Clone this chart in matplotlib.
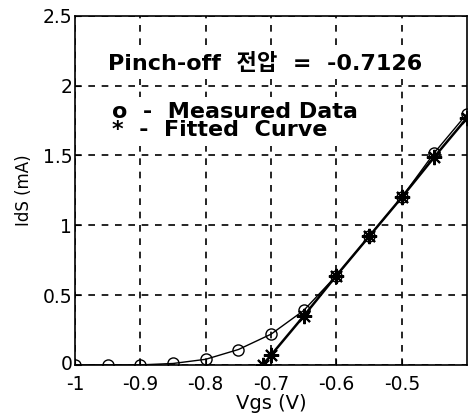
import matplotlib.pyplot as plt
import matplotlib.transforms as mtransforms
import numpy as np

plt.rcParams['font.family'] = ['DejaVu Sans', 'Noto Sans CJK KR']

vgs_meas = [-1.0, -0.95, -0.9, -0.85, -0.8, -0.75, -0.7, -0.65, -0.6, -0.55, -0.5, -0.45, -0.4]
ids_meas = [0.0, 0.0, 0.0, 0.01, 0.04, 0.11, 0.22, 0.39, 0.64, 0.92, 1.2, 1.52, 1.8]

vgs_fit = [-0.7126, -0.7, -0.65, -0.6, -0.55, -0.5, -0.45, -0.4]
ids_fit = [0.0, 0.07, 0.35, 0.64, 0.92, 1.2, 1.49, 1.77]

xticks = [-1, -0.9, -0.8, -0.7, -0.6, -0.5]
xticklabels = ['-1', '-0.9', '-0.8', '-0.7', '-0.6', '-0.5']
yticks = [0, 0.5, 1, 1.5, 2, 2.5]
yticklabels = ['0', '0.5', '1', '1.5', '2', '2.5']

fig = plt.figure(figsize=(4.69, 4.17), dpi=100)
ax = fig.add_axes([0.16, 0.125, 0.836, 0.837])

ax.plot(vgs_meas, ids_meas, '-o', color='black', lw=1.0, ms=8, mfc='none', mew=1.0)
ax.plot(vgs_fit, ids_fit, '-', color='black', lw=1.8, marker=(8, 2, 0), ms=11, mew=1.5)

ax.set_xlim(-1, -0.4)
ax.set_ylim(0, 2.5)
ax.set_xticks(xticks)
ax.set_xticklabels(xticklabels)
ax.set_yticks(yticks)
ax.set_yticklabels(yticklabels)
ax.tick_params(direction='in', labelsize=13.5, length=4)
ax.tick_params(axis='x', pad=7)
ax.tick_params(axis='y', pad=2)
ax.grid(True, linestyle=(0, (4, 4)), color='black', lw=1.2)
for s in ax.spines.values():
    s.set_linewidth(1.2)

# nudge the "0" y label up so it clears "-1"
lab0 = ax.get_yticklabels()[0]
lab0.set_transform(lab0.get_transform() + mtransforms.ScaledTranslation(0, 2 / 72, fig.dpi_scale_trans))

ax.set_xlabel('Vgs (V)', fontsize=14, labelpad=0)
ax.set_ylabel('IdS (mA)', fontsize=12, labelpad=7)

box = dict(facecolor='white', edgecolor='none', pad=4)
ax.text(-0.95, 2.16, 'Pinch-off  전압  =  -0.7126', fontsize=16, fontweight='bold',
        va='center', ha='left', bbox=box)
ax.text(-0.944, 1.745, 'o  -  Measured Data\n*  -  Fitted  Curve', fontsize=16,
        fontweight='bold', va='center', ha='left', linespacing=0.85, bbox=box)

fig.savefig('out.png', dpi=100)
